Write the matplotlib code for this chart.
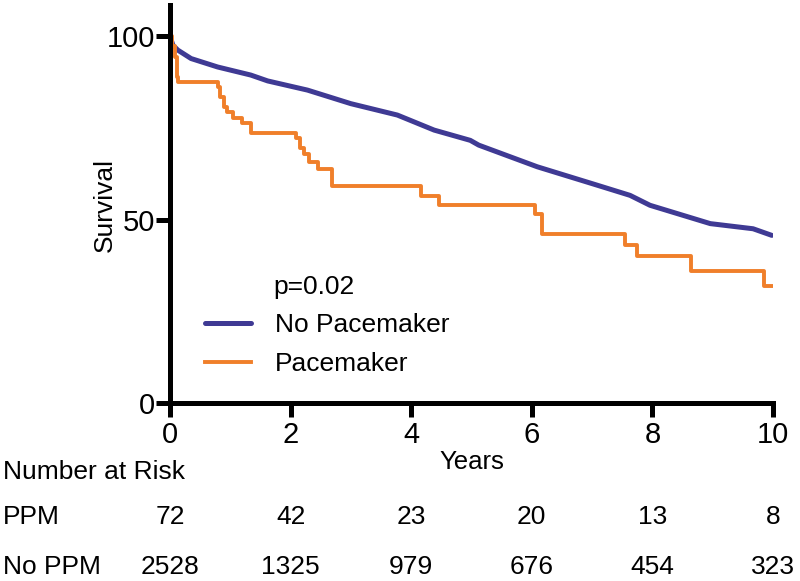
import numpy as np
import matplotlib.pyplot as plt
from matplotlib.transforms import blended_transform_factory

plt.rcParams['font.family'] = ['Liberation Sans', 'DejaVu Sans']

# Kaplan-Meier step points (years, survival %)
ppm_t = [0, 0.04, 0.08, 0.11, 0.14, 0.79, 0.83, 0.9, 0.95, 1.05, 1.2, 1.35,
         2.09, 2.15, 2.22, 2.3, 2.45, 2.68, 4.16, 4.46, 6.05, 6.17, 7.55, 7.74,
         8.64, 9.85, 10.0]
ppm_s = [100, 97.2, 94.4, 88.9, 87.5, 86.1, 83.3, 80.6, 79.2, 77.8, 76.4, 73.6,
         72.2, 69.4, 68.0, 65.7, 63.9, 59.2, 56.4, 54.1, 51.4, 46.2, 43.0, 40.0,
         35.9, 32.0, 32.0]

noppm_t = [0, 0.05, 0.13, 0.35, 0.79, 1.34, 1.62, 2.28, 3.0, 3.77, 4.38, 4.98,
           5.12, 6.09, 7.08, 7.63, 7.96, 8.96, 9.67, 9.98]
noppm_s = [100, 97.5, 96.2, 93.9, 91.6, 89.4, 87.8, 85.3, 81.6, 78.5, 74.4, 71.6,
           70.3, 64.4, 59.4, 56.6, 53.9, 48.9, 47.5, 45.7]

risk_years = [0, 2, 4, 6, 8, 10]
risk_ppm = [72, 42, 23, 20, 13, 8]
risk_noppm = [2528, 1325, 979, 676, 454, 323]

blue = '#3f3a94'
orange = '#f07f2a'

fig = plt.figure(figsize=(8, 5.81), dpi=100)
ax = fig.add_axes([170 / 800, 1 - 403 / 581, 603 / 800, 398 / 581])

ax.plot(noppm_t, noppm_s, color=blue, linewidth=3.6, label='No Pacemaker',
        solid_capstyle='round')
ax.step(ppm_t, ppm_s, where='post', color=orange, linewidth=2.8, label='Pacemaker')

ax.set_xlim(0, 10)
ax.set_ylim(0, 108.5)
ax.set_xticks(risk_years)
ax.set_yticks([0, 50, 100])
for side in ['top', 'right']:
    ax.spines[side].set_visible(False)
for side in ['left', 'bottom']:
    ax.spines[side].set_linewidth(3.6)
ax.tick_params(width=3.6, length=10, labelsize=21)
ax.tick_params(axis='y', pad=1)
ax.tick_params(axis='x', pad=3)
ax.set_ylabel('Survival', fontsize=19)
ax.yaxis.set_label_coords(-0.088, 0.497)
ax.set_xlabel('Years', fontsize=18.5, labelpad=1)

ax.text(0.171, 0.291, 'p=0.02', transform=ax.transAxes, fontsize=19,
        ha='left', va='center')
ax.legend(loc='upper left', bbox_to_anchor=(0.058, 0.226), frameon=False,
          fontsize=19, handlelength=1.75, handletextpad=0.9, labelspacing=0.58,
          borderpad=0, borderaxespad=0)

# number at risk table
trans = blended_transform_factory(ax.transData, fig.transFigure)
fig.text(3 / 800, 1 - 472 / 581, 'Number at Risk', fontsize=19, va='center')
fig.text(3 / 800, 1 - 517 / 581, 'PPM', fontsize=19, va='center')
fig.text(3 / 800, 1 - 567 / 581, 'No PPM', fontsize=19, va='center')
for yr, a, b in zip(risk_years, risk_ppm, risk_noppm):
    ax.text(yr, 1 - 517 / 581, str(a), transform=trans, fontsize=19,
            ha='center', va='center', clip_on=False)
    ax.text(yr, 1 - 567 / 581, str(b), transform=trans, fontsize=19,
            ha='center', va='center', clip_on=False)

fig.savefig('out.png', dpi=100)
